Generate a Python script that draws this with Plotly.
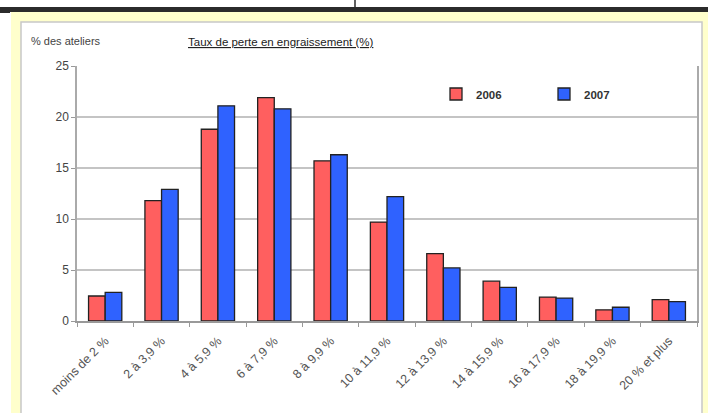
"""Taux de perte en engraissement — bar chart 2006 vs 2007."""

import plotly.graph_objects as go

# ── data ─────────────────────────────────────────────────────────────

categories = [
    "moins de 2 %", "2 à 3,9 %", "4 à 5,9 %", "6 à 7,9 %", "8 à 9,9 %",
    "10 à 11,9 %", "12 à 13,9 %", "14 à 15,9 %", "16 à 17,9 %",
    "18 à 19,9 %", "20 % et plus",
]
values_2006 = [2.45, 11.8, 18.8, 21.9, 15.7, 9.7, 6.6, 3.9, 2.35, 1.1, 2.1]
values_2007 = [2.8, 12.9, 21.1, 20.8, 16.3, 12.2, 5.2, 3.3, 2.25, 1.35, 1.9]
y_ticks = [0, 5, 10, 15, 20, 25]

# ── geometry helpers (pixel -> paper) ────────────────────────────────

W, H = 708, 413
L, R, T, B = 77, 11, 66, 92
PW, PH = W - L - R, H - T - B


def px(x):
    return (x - L) / PW


def py(y):
    return (H - B - y) / PH


FONT = "Liberation Sans, Arial, sans-serif"
RED = "#ff5f5f"
BLUE = "#2f62ff"
EDGE = "#222222"

# ── chart ────────────────────────────────────────────────────────────

fig = go.Figure()
fig.add_trace(
    go.Bar(
        x=categories, y=values_2006, name="2006",
        marker={"color": RED, "line": {"color": EDGE, "width": 1.3}},
    )
)
fig.add_trace(
    go.Bar(
        x=categories, y=values_2007, name="2007",
        marker={"color": BLUE, "line": {"color": EDGE, "width": 1.3}},
    )
)

shapes = [
    # pale yellow frame
    dict(type="rect", xref="paper", yref="paper", layer="below",
         x0=px(11), x1=px(W + 2), y0=py(12), y1=py(H + 2),
         fillcolor="#ffffcc", line={"width": 0}),
    # white chart panel
    dict(type="rect", xref="paper", yref="paper", layer="below",
         x0=px(21), x1=px(702), y0=py(22), y1=py(H + 5),
         fillcolor="white", line={"color": "#c8c8c8", "width": 1.5}),
    # dark band at top
    dict(type="rect", xref="paper", yref="paper", layer="below",
         x0=px(-2), x1=px(W + 2), y0=py(12), y1=py(7),
         fillcolor="#2b2b2b", line={"width": 0}),
    dict(type="rect", xref="paper", yref="paper", layer="below",
         x0=px(-2), x1=px(10), y0=py(13), y1=py(7),
         fillcolor="#2b2b2b", line={"width": 0}),
    dict(type="line", xref="paper", yref="paper", layer="below",
         x0=px(355), x1=px(355), y0=py(7), y1=py(-1),
         line={"color": "#2b2b2b", "width": 1.5}),
]

annotations = [
    dict(text="% des ateliers", xref="paper", yref="paper",
         x=px(29), y=py(41), xanchor="left", yanchor="middle",
         showarrow=False, font={"family": FONT, "size": 11, "color": "#444"}),
    dict(text="<u>Taux de perte en engraissement (%)</u>", xref="paper", yref="paper",
         x=px(281), y=py(42), xanchor="center", yanchor="middle",
         showarrow=False, font={"family": FONT, "size": 11.5, "color": "#222"}),
]

fig.update_layout(
    width=W, height=H,
    margin={"l": L, "r": R, "t": T, "b": B, "autoexpand": False},
    paper_bgcolor="white",
    plot_bgcolor="rgba(0,0,0,0)",
    barmode="group", bargap=0.41, bargroupgap=0,
    font={"family": FONT, "size": 11, "color": "#444"},
    shapes=shapes,
    annotations=annotations,
    showlegend=True,
    legend={
        "orientation": "h", "x": px(436), "y": py(94),
        "xanchor": "left", "yanchor": "middle",
        "entrywidth": 63, "entrywidthmode": "pixels",
        "itemwidth": 30, "bgcolor": "rgba(0,0,0,0)",
        "font": {"family": FONT, "size": 11.5, "color": "#333", "weight": "bold"},
        "traceorder": "normal",
    },
    xaxis={
        "tickangle": -45, "tickson": "boundaries", "ticks": "outside",
        "ticklen": 4, "tickcolor": "#999", "showline": True,
        "linecolor": "#999", "linewidth": 1.5, "showgrid": False,
        "automargin": False, "ticklabelstandoff": 6,
        "tickfont": {"family": FONT, "size": 12.5, "color": "#555"},
    },
    yaxis={
        "range": [0, 25], "tickvals": y_ticks, "ticks": "outside",
        "ticklen": 4, "tickcolor": "#999", "showline": True, "mirror": True,
        "linecolor": "#aaa", "linewidth": 1.5, "gridcolor": "#c4c4c4",
        "gridwidth": 1.5, "zeroline": False, "automargin": False,
        "tickfont": {"family": FONT, "size": 12, "color": "#444"},
    },
)

fig.write_html(
    "out.html",
    config={"displayModeBar": False},
    post_script="document.body.style.margin='0';document.body.style.overflow='hidden';",
)
